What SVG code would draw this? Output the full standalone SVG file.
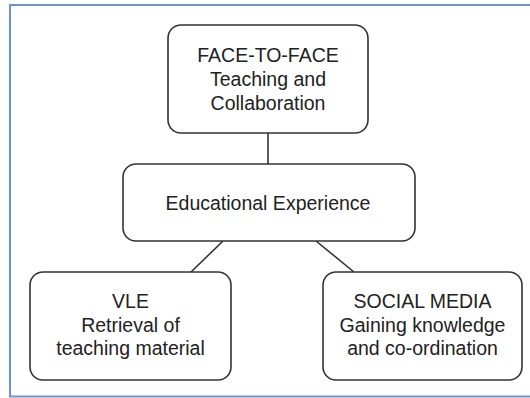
<svg xmlns="http://www.w3.org/2000/svg" width="530" height="398" viewBox="0 0 530 398">
<style>
.frame{fill:#fff;stroke:#6b93d3;stroke-width:2}
.box{fill:#fff;stroke:#333;stroke-width:1.6}
.conn{stroke:#333;stroke-width:1.6;fill:none}
text{font-family:"Liberation Sans",Arial,sans-serif;font-size:19.5px;fill:#222;text-anchor:middle}
</style>
<rect x="0" y="0" width="530" height="398" fill="#fff"/>
<rect class="frame" x="10" y="5" width="540" height="391.5"/>
<g id="connectors">
<line class="conn" x1="268" y1="133" x2="268" y2="164"/>
<line class="conn" x1="223" y1="241" x2="191" y2="272"/>
<line class="conn" x1="316" y1="241" x2="354" y2="272"/>
</g>
<g id="face">
<rect class="box" x="168" y="25" width="200" height="108" rx="13"/>
<text x="268" y="61.5">FACE-TO-FACE</text>
<text x="268" y="85.5">Teaching and</text>
<text x="268" y="109.5">Collaboration</text>
</g>
<g id="edu">
<rect class="box" x="123" y="164" width="292" height="77" rx="13"/>
<text x="268" y="210">Educational Experience</text>
</g>
<g id="vle">
<rect class="box" x="30" y="272" width="201" height="108" rx="13"/>
<text x="130.5" y="308">VLE</text>
<text x="130.5" y="331.5">Retrieval of</text>
<text x="130.5" y="355">teaching material</text>
</g>
<g id="social">
<rect class="box" x="323" y="272" width="199" height="108" rx="13"/>
<text x="422.5" y="308">SOCIAL MEDIA</text>
<text x="422.5" y="331.5">Gaining knowledge</text>
<text x="422.5" y="355">and co-ordination</text>
</g>
</svg>
